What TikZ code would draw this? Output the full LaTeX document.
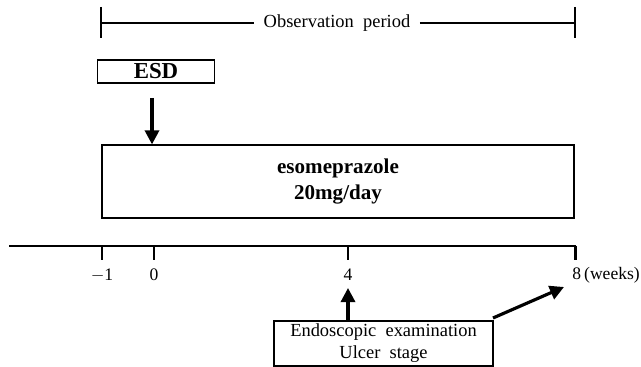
\documentclass[tikz,border=0pt]{standalone}
\usepackage{fontspec}
\setmainfont{Liberation Serif}
\usetikzlibrary{shapes,arrows.meta}

\begin{document}
\begin{tikzpicture}[thick, x=0.02cm, y=-0.02cm]
\tikzstyle{boxr}=[rectangle, draw=black, line width=0.7pt, inner sep=0pt]
\tikzstyle{labelt}=[inner sep=1pt, font=\fontsize{10}{11}\selectfont]
\tikzstyle{drawstyle}=[line width=1.4pt]
\tikzstyle{arrowstyle}=[line width=1.8pt, -{Triangle[length=8pt,width=8pt]}]

\useasboundingbox (0,0) rectangle (641,367);

% observation period
\node[labelt, inner xsep=5pt, font=\fontsize{10.5}{12}\selectfont] (Obs) at (337,23) {Observation\ \ period};
\coordinate (P0a) at (101,7);
\coordinate (P0b) at (101,38);
\coordinate (P1a) at (575,7);
\coordinate (P1b) at (575,38);
\draw[drawstyle] (P0a) -- (P0b);
\draw[drawstyle] (P1a) -- (P1b);
\draw[drawstyle] (P0a |- Obs.west) -- (Obs.west);
\draw[drawstyle] (Obs.east) -- (P1a |- Obs.east);

% ESD and drug
\node[boxr, minimum width=2.34cm, minimum height=0.46cm, font=\bfseries\fontsize{13}{14}\selectfont] (ESD) at (156,71.5) {ESD};
\node[boxr, minimum width=9.44cm, minimum height=1.46cm, align=center, font=\bfseries\fontsize{12}{15}\selectfont] (Drug) at (338,181.5) {esomeprazole\\20mg/day};
\coordinate (A0) at (152,98);
\draw[arrowstyle] (A0) -- (A0 |- Drug.north);

% time axis
\coordinate (Ax0) at (9,246);
\coordinate (Ax1) at (576,246);
\draw[drawstyle] (Ax0) -- (Ax1);
\foreach \x/\n/\t in {102/m1/$-$1, 154/w0/0, 348/w4/4}{
  \coordinate (T\n) at (\x,246);
  \draw[drawstyle] (T\n) -- ++(0,14);
  \node[labelt] (L\n) at (\x,275) {\t};
}
\coordinate (Tw8) at (575.3,246);
\draw[drawstyle] (Tw8) -- ++(0,14);
\node[labelt, anchor=west] (Lw8) at (570,275) {8\,(weeks)};

% endoscopy
\node[boxr, minimum width=4.38cm, minimum height=0.9cm, align=center, font=\fontsize{10.5}{12.5}\selectfont] (Endo) at (383.5,343.5) {Endoscopic\ \ examination\\Ulcer\ \ stage};
\coordinate (E4) at (348,288);
\draw[arrowstyle] (Endo.north -| E4) -- (E4);
\coordinate (E8a) at (493,318);
\coordinate (E8b) at (564,287);
\draw[arrowstyle] (E8a) -- (E8b);
\end{tikzpicture}
\end{document}
